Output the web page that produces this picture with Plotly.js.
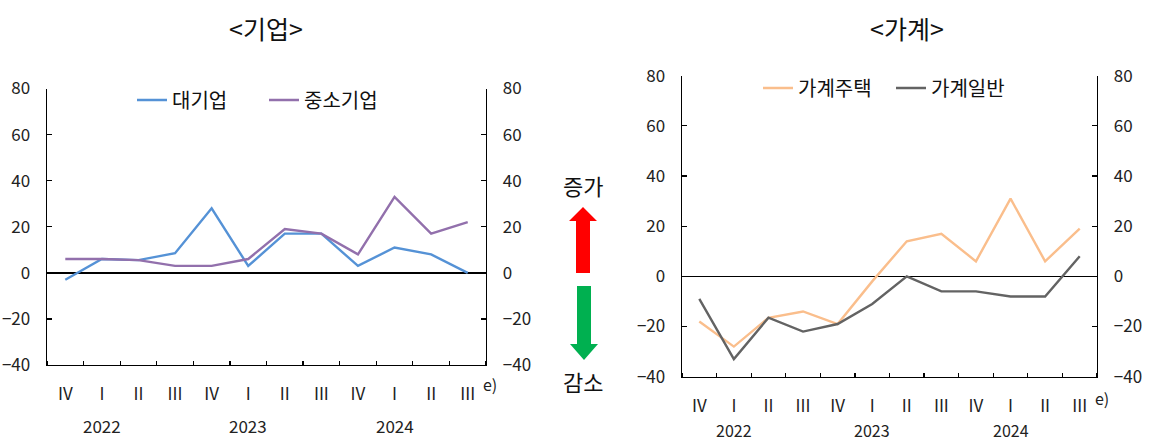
<!DOCTYPE html>
<html>
<head>
<meta charset="utf-8">
<script src="https://cdn.plot.ly/plotly-3.0.1.min.js"></script>
<style>
  html, body { margin: 0; padding: 0; background: #fff; }
  #chart { width: 1176px; height: 444px; }
</style>
</head>
<body>
<div id="chart"></div>
<script>
// ---- data ----
const quarters = ['IV', 'I', 'II', 'III', 'IV', 'I', 'II', 'III', 'IV', 'I', 'II', 'III'];
const yearLabels = ['2022', '2023', '2024'];
const yearLabelIndex = [1, 5, 9];
const largeFirms = [-3, 6, 5.5, 8.5, 28, 3, 17, 17, 3, 11, 8, 0];          // 대기업
const smeFirms = [6, 6, 5.5, 3, 3, 6, 19, 17, 8, 33, 17, 22];              // 중소기업
const householdHousing = [-18, -28, -16.5, -14, -19, -2, 14, 17, 6, 31, 6, 19]; // 가계주택
const householdGeneral = [-9, -33, -16.5, -22, -19, -11, 0, -6, -6, -8, -8, 8]; // 가계일반
const seriesNames = ['대기업', '중소기업', '가계주택', '가계일반'];

const FONT = '"Noto Sans CJK KR", "Noto Sans", sans-serif';
const W = 1176, H = 444;
const px = v => v / W;
const py = v => 1 - v / H;
const xIdx = quarters.map((_, i) => i);

const traces = [
  { x: xIdx, y: largeFirms, name: seriesNames[0], type: 'scatter', mode: 'lines',
    line: { color: '#5592D6', width: 2.4 }, xaxis: 'x', yaxis: 'y', legend: 'legend' },
  { x: xIdx, y: smeFirms, name: seriesNames[1], type: 'scatter', mode: 'lines',
    line: { color: '#9270AC', width: 2.4 }, xaxis: 'x', yaxis: 'y', legend: 'legend' },
  { x: xIdx, y: householdHousing, name: seriesNames[2], type: 'scatter', mode: 'lines',
    line: { color: '#FABE8C', width: 2.4 }, xaxis: 'x2', yaxis: 'y3', legend: 'legend2' },
  { x: xIdx, y: householdGeneral, name: seriesNames[3], type: 'scatter', mode: 'lines',
    line: { color: '#636363', width: 2.4 }, xaxis: 'x2', yaxis: 'y3', legend: 'legend2' }
];

const tickFont = { family: FONT, size: 17, color: '#222' };

function xAxis(domain, anchor) {
  return {
    domain: domain, anchor: anchor, range: [-0.5, 11.5],
    tickmode: 'array', tickvals: xIdx, ticktext: quarters,
    ticks: '', showgrid: false, zeroline: false,
    showline: true, linecolor: '#000', linewidth: 1.4,
    tickfont: tickFont, ticklabelstandoff: 13,
    minor: { ticks: 'inside', ticklen: 4, tickcolor: '#000', tickwidth: 1.2,
             tickmode: 'linear', tick0: -0.5, dtick: 1, showgrid: false },
    fixedrange: true
  };
}
function yAxis(domain, anchor, side, overlaying) {
  const a = {
    domain: domain, anchor: anchor, side: side, range: [-40, 80],
    tickmode: 'linear', tick0: -40, dtick: 20,
    ticks: 'inside', ticklen: 5, tickcolor: '#000', tickwidth: 1.2,
    showline: true, linecolor: '#000', linewidth: 1.4,
    showgrid: false, zeroline: true, zerolinecolor: '#000', zerolinewidth: 1.4,
    tickfont: tickFont, ticklabelstandoff: 12, fixedrange: true
  };
  if (overlaying) { a.overlaying = overlaying; a.zeroline = false; }
  return a;
}

const leftX = [px(47), px(486)];
const leftY = [py(365), py(88.5)];
const rightX = [px(682), px(1097)];
const rightY = [py(376.7), py(75.7)];

function ann(o) {
  return Object.assign({ showarrow: false, xanchor: 'center', yanchor: 'middle' }, o);
}
const annotations = [
  ann({ text: '&lt;기업&gt;', x: px(266), y: py(28), xref: 'paper', yref: 'paper',
    font: { family: FONT, size: 25, color: '#111' } }),
  ann({ text: '&lt;가계&gt;', x: px(907), y: py(28), xref: 'paper', yref: 'paper',
    font: { family: FONT, size: 25, color: '#111' } }),
  ann({ text: '증가', x: px(583), y: py(185), xref: 'paper', yref: 'paper',
    font: { family: FONT, size: 22, color: '#111' } }),
  ann({ text: '감소', x: px(583), y: py(381), xref: 'paper', yref: 'paper',
    font: { family: FONT, size: 22, color: '#111' } }),
  ann({ text: 'e)', x: 11, xref: 'x', y: py(384), yref: 'paper', xshift: 22,
    font: { family: FONT, size: 16, color: '#222' } }),
  ann({ text: 'e)', x: 11, xref: 'x2', y: py(398), yref: 'paper', xshift: 22,
    font: { family: FONT, size: 16, color: '#222' } })
];
yearLabels.forEach((yr, k) => {
  annotations.push(ann({ text: yr, x: yearLabelIndex[k], xref: 'x', y: py(425), yref: 'paper',
    font: { family: FONT, size: 17, color: '#222' } }));
  annotations.push(ann({ text: yr, x: yearLabelIndex[k], xref: 'x2', y: py(430), yref: 'paper',
    font: { family: FONT, size: 16, color: '#222' } }));
});

function pathP(points) {
  return 'M' + points.map(p => px(p[0]) + ',' + py(p[1])).join(' L') + ' Z';
}
const shapes = [
  { type: 'path', xref: 'paper', yref: 'paper', fillcolor: '#FF0000', line: { width: 0 },
    path: pathP([[576, 273], [576, 221], [569, 221], [583, 207], [597, 221], [590, 221], [590, 273]]) },
  { type: 'path', xref: 'paper', yref: 'paper', fillcolor: '#00B050', line: { width: 0 },
    path: pathP([[577, 286], [591, 286], [591, 344], [598, 344], [584, 360], [570, 344], [577, 344]]) }
];

const legendBase = {
  orientation: 'h', xanchor: 'left', yanchor: 'middle',
  bgcolor: 'rgba(0,0,0,0)', borderwidth: 0, itemwidth: 30,
  entrywidthmode: 'pixels',
  font: { family: FONT, size: 20, color: '#111' }
};

const layout = {
  width: W, height: H,
  margin: { l: 0, r: 0, t: 0, b: 0 },
  paper_bgcolor: '#fff', plot_bgcolor: 'rgba(0,0,0,0)',
  showlegend: true,
  font: { family: FONT },
  xaxis: xAxis(leftX, 'y'),
  yaxis: yAxis(leftY, 'x', 'left'),
  yaxis2: yAxis(leftY, 'x', 'right', 'y'),
  xaxis2: xAxis(rightX, 'y3'),
  yaxis3: yAxis(rightY, 'x2', 'left'),
  yaxis4: yAxis(rightY, 'x2', 'right', 'y3'),
  legend: Object.assign({}, legendBase, { x: px(132), y: py(100), entrywidth: 87 }),
  legend2: Object.assign({}, legendBase, { x: px(758), y: py(88), entrywidth: 88 }),
  annotations: annotations,
  shapes: shapes
};

// invisible traces so the right-side axes render
traces.push({ x: [0], y: [0], xaxis: 'x', yaxis: 'y2', showlegend: false, hoverinfo: 'skip',
  mode: 'markers', marker: { opacity: 0 } });
traces.push({ x: [0], y: [0], xaxis: 'x2', yaxis: 'y4', showlegend: false, hoverinfo: 'skip',
  mode: 'markers', marker: { opacity: 0 } });

Plotly.newPlot('chart', traces, layout, { displayModeBar: false, staticPlot: true });
</script>
</body>
</html>
